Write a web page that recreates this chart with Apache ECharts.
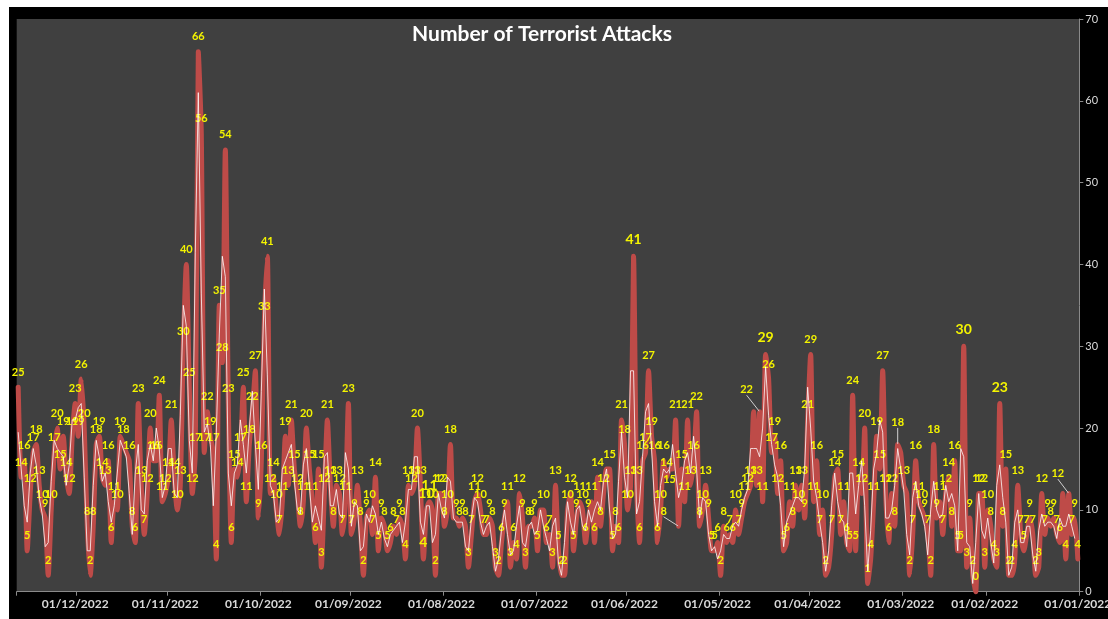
<!DOCTYPE html>
<html><head><meta charset="utf-8">
<script src="https://cdn.jsdelivr.net/npm/echarts@6/dist/echarts.min.js"></script>
<style>html,body{margin:0;padding:0;background:#fff;width:1108px;height:619px;overflow:hidden}
#c{position:absolute;left:9px;top:7px;width:1099px;height:612px;background:#000}</style>
</head><body><div id="c"></div>
<script>
// newest day first, as read left to right on the reversed date axis (20/12/2022 ... 01/01/2022)
const attacks = [25,14,16,5,12,17,18,13,10,9,2,10,17,20,15,19,14,12,19,23,19,26,20,8,2,8,18,19,14,13,16,6,11,10,19,18,17,16,8,6,
23,13,7,12,20,16,16,24,11,12,14,21,14,10,13,30,40,25,12,17,66,56,17,22,19,17,4,35,28,54,23,6,15,14,17,25,11,18,22,27,
9,16,33,41,12,14,10,7,11,19,13,21,15,12,8,11,20,15,11,6,15,3,12,21,13,8,13,12,7,11,23,7,9,13,8,2,9,10,7,14,
5,9,8,5,6,8,7,9,8,4,13,12,13,20,13,4,10,11,10,2,12,12,8,10,18,9,9,8,9,8,3,7,11,12,10,7,7,9,8,3,
2,6,9,11,3,6,4,12,9,3,8,8,9,5,10,10,6,7,3,13,5,2,2,10,12,5,9,11,10,6,9,11,6,14,8,12,15,15,5,8,
6,21,18,10,13,41,13,6,16,17,27,19,16,6,10,16,14,15,15,21,8,15,11,21,13,16,22,8,10,13,9,5,5,6,2,8,6,7,6,10,
7,9,11,12,13,22,13,22,11,29,26,17,19,12,16,5,6,11,8,13,10,13,9,21,29,11,16,7,10,2,3,7,14,15,7,11,6,5,24,5,
14,12,20,1,4,11,19,15,27,12,6,12,8,18,17,13,12,2,7,16,11,10,9,7,2,18,9,11,7,12,14,8,16,5,5,30,3,9,2,0,
12,12,3,10,8,4,3,23,8,15,2,2,4,13,7,5,7,9,7,2,3,12,7,9,8,9,7,6,12,4,12,7,9,4];
// white trend line, same order; it stops one day before the right edge
const trend = [19.5,15,10.5,8.5,14.5,17.5,15.5,11.5,9.5,5.5,6,13.5,18.5,17.5,17,16.5,13,15.5,21,21,22.5,23,14,5,5,13,18.5,16.5,13.5,14.5,11,8.5,10.5,14.5,18.5,17.5,16.5,12,7,14.5,
18,10,9.5,16,18,16,20,17.5,11.5,13,17.5,17.5,12,11.5,21.5,35,32.5,18.5,14.5,41.5,61,36.5,19.5,20.5,18,10.5,19.5,31.5,41,38.5,14.5,10.5,14.5,15.5,21,18,14.5,20,24.5,18,
12.5,24.5,37,26.5,13,12,8.5,9,15,16,17,18,13.5,10,9.5,15.5,17.5,13,8.5,10.5,9,7.5,16.5,17,10.5,10.5,12.5,9.5,9,17,15,8,11,10.5,5,5.5,9.5,8.5,10.5,9.5,
7,8.5,6.5,5.5,7,7.5,8,8.5,6,8.5,12.5,12.5,16.5,16.5,8.5,7,10.5,10.5,6,7,12,10,9,14,13.5,9,8.5,8.5,8.5,5.5,5,9,11.5,11,8.5,7,8,8.5,5.5,2.5,
4,7.5,10,7,4.5,5,8,10.5,6,5.5,8,8.5,7,7.5,10,8,6.5,5,8,9,3.5,2,6,11,8.5,7,10,10.5,8,7.5,10,8.5,10,11,10,13.5,15,10,6.5,7,
13.5,19.5,14,11.5,27,27,9.5,11,16.5,22,23,17.5,11,8,13,15,14.5,15,18,14.5,11.5,13,16,17,14.5,19,15,9,11.5,11,7,5,5.5,4,5,7,6.5,6.5,8,8.5,
8,10,11.5,12.5,17.5,17.5,17.5,16.5,20,27.5,21.5,18,15.5,14,10.5,5.5,8.5,9.5,10.5,11.5,11.5,11,15,25,20,13.5,11.5,8.5,6,2.5,5,10.5,14.5,11,9,8.5,5.5,14.5,14.5,9.5,
13,16,10.5,2.5,7.5,15,17,21,19.5,9,9,10,13,17.5,15,12.5,7,4.5,11.5,13.5,10.5,9.5,8,4.5,10,13.5,10,9,9.5,13,11,12,10.5,5,17.5,16.5,6,5.5,1,6,
12,7.5,6.5,9,6,3.5,13,15.5,11.5,8.5,2,3,8.5,10,6,6,8,8,4.5,2.5,7.5,9.5,8,8.5,8.5,8,6.5,9,8,8,9.5,8,6.5,null];
const yTicks = [0,10,20,30,40,50,60,70];
const hiddenLabels = [36,145,174,196,218,245,270,294,296,348];
const bigLabels = [135,136,137,205,249,315,327];
const movedLabels = {217:[0,25],220:[-15,0],247:[-13,-7],293:[0,-7],350:[-11,-5]};
const title = 'Number of Terrorist Attacks';

const pad = n => String(n).padStart(2,'0');
const dates = attacks.map((_,k) => {
  const d = new Date(Date.UTC(2022,0,1+k));
  return pad(d.getUTCDate())+'/'+pad(d.getUTCMonth()+1)+'/'+d.getUTCFullYear();
});
const last = attacks.length-1;
const redData = attacks.slice().reverse().map((v,k)=>{
  const i = last-k;
  const item = {value:v,label:{show:!hiddenLabels.includes(i),fontSize:bigLabels.includes(i)?14:11}};
  if(movedLabels[i]) item.labelLine={show:true,lineStyle:{color:'#d0d0d0',width:1}};
  return item;
});
const firstOfMonth = (idx,val)=>val.startsWith('01/');
const chart = echarts.init(document.getElementById('c'),null,{width:1099,height:612});
chart.setOption({
  animation:false,
  backgroundColor:'#000',
  title:{text:title,left:533,top:12,textAlign:'center',textStyle:{color:'#fff',fontSize:21,fontWeight:'bold',fontFamily:'Lato'},left:528},
  grid:{left:7.7,right:28.7,top:12,bottom:27.3,show:true,backgroundColor:'#404040',borderWidth:0,outerBoundsMode:'none'},
  xAxis:{type:'category',data:dates,inverse:true,boundaryGap:true,
    axisLine:{lineStyle:{color:'#8a8a8a',width:1}},
    axisTick:{show:true,interval:firstOfMonth,length:4,alignWithLabel:false,lineStyle:{color:'#8a8a8a'}},
    axisLabel:{interval:firstOfMonth,color:'#d9d9d9',fontSize:12,fontWeight:'bold',fontFamily:'Lato',margin:6,hideOverlap:false}},
  yAxis:{type:'value',position:'right',min:yTicks[0],max:yTicks[yTicks.length-1],interval:10,
    axisLine:{show:true,lineStyle:{color:'#8a8a8a'}},
    axisTick:{show:true,length:4,lineStyle:{color:'#8a8a8a'}},
    axisLabel:{color:'#d9d9d9',fontSize:11,fontFamily:'Lato',margin:6},splitLine:{show:false}},
  series:[
   {type:'line',data:redData,smooth:0.22,symbol:'circle',symbolSize:1,showSymbol:true,showAllSymbol:true,clip:false,
    lineStyle:{color:'#BE4B48',width:5,cap:'round',join:'round'},itemStyle:{color:'#BE4B48'},
    label:{show:true,position:'top',distance:9,color:'#F4F400',fontWeight:'bold',fontFamily:'Lato',fontSize:11},
    labelLayout:p=>{const m=movedLabels[last-p.dataIndex];return m?{dx:m[0],dy:m[1]}:{};},
    z:2},
   {type:'line',data:trend.slice().reverse(),symbol:'none',showSymbol:false,connectNulls:false,
    lineStyle:{color:'rgba(255,255,255,0.78)',width:1},z:3}
  ]
});
</script></body></html>
